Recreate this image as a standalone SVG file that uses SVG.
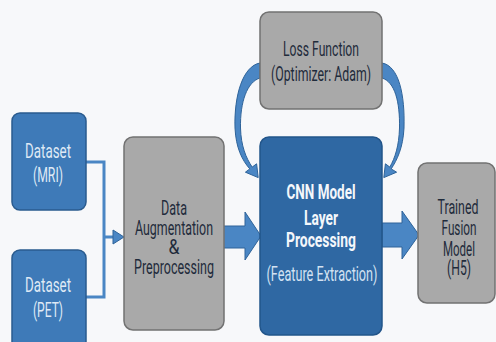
<svg xmlns="http://www.w3.org/2000/svg" width="496" height="342" viewBox="0 0 496 342">
<defs>
<style>
.blue{fill:#3e7ab8;stroke:#2a5b8e;stroke-width:1.5}
.cnn{fill:#2f68a3;stroke:#22558a;stroke-width:1.5}
.gray{fill:#a9a9a9;stroke:#727272;stroke-width:1.5}
.conn{fill:none;stroke:#4a86c4;stroke-width:3}
.arrow{fill:#4a86c4;stroke:#2e6399;stroke-width:1}
text{font-family:"Liberation Sans Narrow","Roboto","Liberation Sans",sans-serif;text-anchor:middle}
.lt{fill:#dfe9f5;font-size:21px}
.dk{fill:#1f2b3b;font-size:21px}
.ls{fill:#1f2b3b;font-size:20px}
.wb{fill:#f4f7fb;font-weight:bold;font-size:21px}
.fe{fill:#d3e2f2;font-size:20px}
</style>
</defs>
<rect width="496" height="342" fill="#f7f8fa"/>
<g id="connectors">
<path class="conn" d="M86,162 H104 V297 H86 M104,237 H115"/>
<polygon class="arrow" points="113,230 124,237 113,244" stroke="none"/>
<polygon class="arrow" points="223,226 245,226 245,212 261,236 245,260 245,248 223,248"/>
<polygon class="arrow" points="382,223 402,223 402,211 419,235 402,259 402,247 382,247"/>
<path class="arrow" d="M260,63 C243,66 234,95 235,128 C236,148 242,160 249.8,168.9 L245.4,172.2 L258.2,177.6 L256.6,163.8 L252.2,167.1 C246,158 241,146 240.5,128 C240,102 247,82 260,78 Z"/>
<path class="arrow" d="M382,63 C399,66 405,95 404,128 C403,148 397,160 391.2,168.9 L396.6,172.2 L383.8,177.6 L385.4,163.8 L389.8,167.1 C395,158 399,146 399.5,128 C400,102 395,82 382,78 Z"/>
</g>
<g id="dataset-mri">
<rect class="blue" x="12" y="113" width="74" height="97" rx="8"/>
<text class="lt" x="48" y="158" textLength="46" lengthAdjust="spacingAndGlyphs">Dataset</text>
<text class="lt" x="48" y="182" textLength="30" lengthAdjust="spacingAndGlyphs">(MRI)</text>
</g>
<g id="dataset-pet">
<rect class="blue" x="12" y="250" width="74" height="100" rx="8"/>
<text class="lt" x="48" y="292" textLength="46" lengthAdjust="spacingAndGlyphs">Dataset</text>
<text class="lt" x="48" y="317" textLength="30" lengthAdjust="spacingAndGlyphs">(PET)</text>
</g>
<g id="data-augmentation">
<rect class="gray" x="124" y="137" width="100" height="193" rx="9"/>
<text class="dk" x="174" y="215" textLength="26" lengthAdjust="spacingAndGlyphs">Data</text>
<text class="dk" x="174" y="235" textLength="78" lengthAdjust="spacingAndGlyphs">Augmentation</text>
<text class="dk" x="174" y="254" textLength="11" lengthAdjust="spacingAndGlyphs">&amp;</text>
<text class="dk" x="174" y="274" textLength="80" lengthAdjust="spacingAndGlyphs">Preprocessing</text>
</g>
<g id="loss-function">
<rect class="gray" x="260" y="12" width="122" height="97" rx="9"/>
<text class="ls" x="321" y="56" textLength="76" lengthAdjust="spacingAndGlyphs">Loss Function</text>
<text class="ls" x="321" y="81" textLength="100" lengthAdjust="spacingAndGlyphs">(Optimizer: Adam)</text>
</g>
<g id="cnn-model">
<rect class="cnn" x="260" y="137" width="122" height="198" rx="9"/>
<text class="wb" x="321" y="199" textLength="69" lengthAdjust="spacingAndGlyphs">CNN Model</text>
<text class="wb" x="321" y="225" textLength="34" lengthAdjust="spacingAndGlyphs">Layer</text>
<text class="wb" x="321" y="247" textLength="70" lengthAdjust="spacingAndGlyphs">Processing</text>
<text class="fe" x="322" y="281" textLength="111" lengthAdjust="spacingAndGlyphs">(Feature Extraction)</text>
</g>
<g id="trained-model">
<rect class="gray" x="418" y="163" width="77" height="140" rx="9"/>
<text class="dk" x="458" y="214" textLength="41" lengthAdjust="spacingAndGlyphs">Trained</text>
<text class="dk" x="459" y="235" textLength="35" lengthAdjust="spacingAndGlyphs">Fusion</text>
<text class="dk" x="459" y="256" textLength="32" lengthAdjust="spacingAndGlyphs">Model</text>
<text class="dk" x="459" y="275" textLength="24" lengthAdjust="spacingAndGlyphs">(H5)</text>
</g>
</svg>
